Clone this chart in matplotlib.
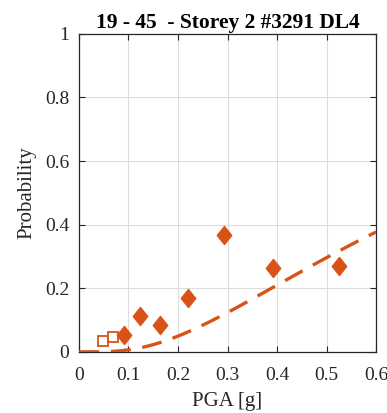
import math
import numpy as np
import matplotlib
matplotlib.use("Agg")
import matplotlib.pyplot as plt
from matplotlib.path import Path

# Observed exceedance fractions (open squares: low-count bins, diamonds: regular bins)
pga_open = [0.048, 0.068]
prob_open = [0.035, 0.047]
pga_obs = [0.091, 0.123, 0.164, 0.220, 0.293, 0.392, 0.525]
prob_obs = [0.053, 0.113, 0.085, 0.170, 0.368, 0.264, 0.270]

# Fitted lognormal fragility parameters (median [g], dispersion)
theta = 0.776
beta = 0.822

xticks = [0, 0.1, 0.2, 0.3, 0.4, 0.5, 0.6]
xtick_labels = ["0", "0.1", "0.2", "0.3", "0.4", "0.5", "0.6"]
yticks = [0, 0.2, 0.4, 0.6, 0.8, 1.0]
ytick_labels = ["0", "0.2", "0.4", "0.6", "0.8", "1"]

plt.rcParams["font.family"] = ["Liberation Serif", "DejaVu Serif"]
color = "#D95319"
ink = "#262626"

# slightly tall diamond marker
diamond = Path([(0, 1), (0.8, 0), (0, -1), (-0.8, 0), (0, 1)],
               [Path.MOVETO, Path.LINETO, Path.LINETO, Path.LINETO, Path.CLOSEPOLY])

fig = plt.figure(figsize=(3.87, 4.13), dpi=100)
ax = fig.add_axes([0.204, 0.148, 0.768, 0.770])

x = np.linspace(0.0005, 0.6, 400)
cdf = np.array([0.5 * (1 + math.erf((math.log(v) - math.log(theta)) / (beta * math.sqrt(2)))) for v in x])
ax.plot(x, cdf, linestyle=(0, (6, 3.5)), color=color, linewidth=2.4, zorder=3)

ax.plot(pga_open, prob_open, linestyle="none", marker="s", markersize=7,
        markerfacecolor="white", markeredgecolor=color, markeredgewidth=1.3, zorder=4)
ax.plot(pga_obs, prob_obs, linestyle="none", marker=diamond, markersize=13,
        markerfacecolor=color, markeredgecolor=color, zorder=4)

ax.set_xlim(0, 0.6)
ax.set_ylim(0, 1)
ax.set_xticks(xticks)
ax.set_xticklabels(xtick_labels)
ax.set_yticks(yticks)
ax.set_yticklabels(ytick_labels)
ax.grid(True, color="#DDDDDD", linewidth=0.8)
ax.set_axisbelow(True)
ax.tick_params(direction="in", length=4, width=0.8, top=True, right=True,
               labelsize=14, colors=ink)
ax.tick_params(axis="x", pad=11)
ax.tick_params(axis="y", pad=7)
for s in ax.spines.values():
    s.set_color(ink)
    s.set_linewidth(0.9)

ax.set_xlabel("PGA [g]", fontsize=15, color=ink, labelpad=6)
ax.set_ylabel("Probability", fontsize=15, color=ink, labelpad=6)
ax.set_title("19 - 45  - Storey 2 #3291 DL4", fontsize=15.5, fontweight="bold", pad=4)

fig.savefig("out.png", dpi=100)
